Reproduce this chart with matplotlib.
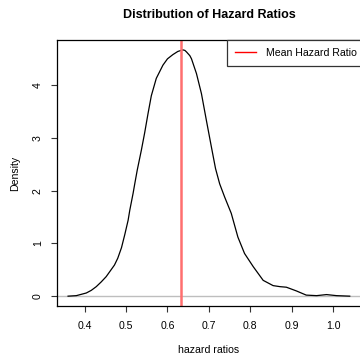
import numpy as np
import matplotlib.pyplot as plt

plt.rcParams['font.family'] = ['Liberation Sans', 'DejaVu Sans']

# kernel density estimate of the hazard ratios (read off as x, density pairs)
hr = [0.360, 0.380, 0.404, 0.416, 0.428, 0.440, 0.452, 0.472, 0.480, 0.489,
      0.497, 0.505, 0.509, 0.517, 0.521, 0.527, 0.537, 0.545, 0.553, 0.561,
      0.573, 0.589, 0.600, 0.613, 0.625, 0.637, 0.642, 0.646, 0.654, 0.658,
      0.670, 0.682, 0.694, 0.706, 0.716, 0.726, 0.738, 0.754, 0.770, 0.786,
      0.807, 0.831, 0.855, 0.872, 0.887, 0.911, 0.935, 0.960, 0.984, 1.008,
      1.040]
density = [0.00, 0.01, 0.06, 0.11, 0.18, 0.27, 0.37, 0.59, 0.72, 0.92,
           1.17, 1.44, 1.63, 1.95, 2.13, 2.39, 2.77, 3.10, 3.46, 3.80,
           4.13, 4.38, 4.50, 4.58, 4.64, 4.67, 4.66, 4.63, 4.56, 4.50,
           4.22, 3.84, 3.33, 2.83, 2.42, 2.13, 1.88, 1.57, 1.12, 0.81,
           0.56, 0.30, 0.20, 0.18, 0.17, 0.10, 0.02, 0.01, 0.03, 0.01,
           0.00]
mean_hr = 0.6335

fig = plt.figure(figsize=(3.6, 3.56), dpi=100)
ax = fig.add_axes([0.158, 0.1404, 0.845, 0.7472])

ax.axhline(0, color='#bebebe', lw=1)
ax.plot(hr, density, color='black', lw=0.9)
ax.axvline(mean_hr, color='#ff6f6f', lw=1.8)

# R-style 4% padding around the data range
xr = max(hr) - min(hr)
yr = max(density)
ax.set_xlim(0.333, 0.333 + xr * 1.08)
ax.set_ylim(-0.04 * yr, 1.04 * yr)

ax.set_xticks([0.4, 0.5, 0.6, 0.7, 0.8, 0.9, 1.0])
ax.set_xticklabels(['0.4', '0.5', '0.6', '0.7', '0.8', '0.9', '1.0'])
ax.set_yticks([0, 1, 2, 3, 4])
ax.set_yticklabels(['0', '1', '2', '3', '4'], rotation=90, va='center')
ax.tick_params(axis='both', labelsize=7.6, length=4, width=0.8, color='#333333')
ax.tick_params(axis='x', pad=7)
ax.tick_params(axis='y', pad=6)
for s in ax.spines.values():
    s.set_linewidth(0.9)

ax.set_title('Distribution of Hazard Ratios', fontsize=9, fontweight='bold', pad=16)
ax.set_xlabel('hazard ratios', fontsize=7.6, labelpad=10)
ax.set_ylabel('Density', fontsize=7.6, labelpad=9)

leg = ax.legend([plt.Line2D([], [], color='red', lw=1)], ['Mean Hazard Ratio'],
                loc='upper right', bbox_to_anchor=(1.012, 1.0), fontsize=7.6,
                fancybox=False, framealpha=1, edgecolor='#333333',
                borderaxespad=0, handlelength=2.0, handletextpad=0.9,
                borderpad=0.75)
leg.get_frame().set_linewidth(0.9)

fig.savefig('out.png', dpi=100)
